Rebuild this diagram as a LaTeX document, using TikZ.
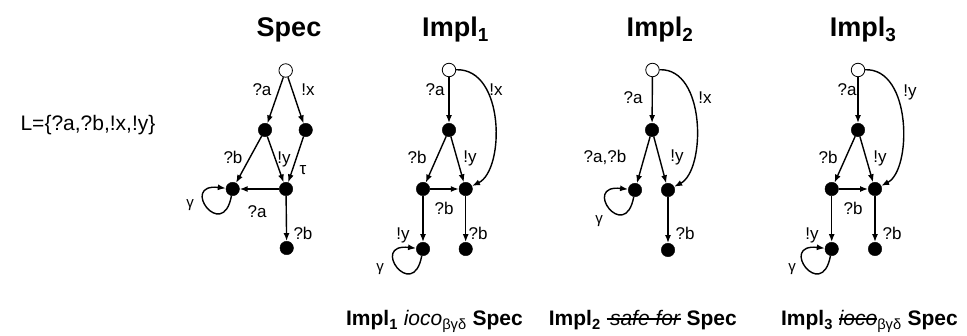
\documentclass[tikz,border=0pt]{standalone}
\usepackage{fontspec}
\setmainfont{Liberation Sans}
\usetikzlibrary{arrows.meta}
\newsavebox\strkbox
\newcommand\strk[1]{\sbox\strkbox{#1}\rlap{\rule[0.3em]{\wd\strkbox}{1.2pt}}\usebox\strkbox}
\begin{document}
\begin{tikzpicture}[x=1pt,y=-1pt,
  st/.style={circle,fill=black,draw=black,inner sep=0pt,minimum size=13.5pt},
  ini/.style={circle,fill=white,draw=black,line width=0.8pt,inner sep=0pt,minimum size=13.5pt},
  tr/.style={draw,line width=1.4pt,-{Latex[length=8pt,width=6pt]}},
  lab/.style={font=\fontsize{17}{20}\selectfont,inner sep=0pt},
  glab/.style={font=\fontsize{15}{18}\selectfont,inner sep=0pt},
  ttl/.style={font=\fontsize{27}{30}\selectfont\bfseries,anchor=base},
  res/.style={font=\fontsize{21}{24}\selectfont,anchor=base east,inner sep=0pt},
  loopy/.style={tr}]
\useasboundingbox (0,0) rectangle (967,336);

\node[font=\fontsize{21}{24}\selectfont,inner sep=0pt] (L) at (88,125) {L=\{?a,?b,!x,!y\}};

% Titles
\node[ttl] (tS) at (289,37) {Spec};
\node[ttl] (t1) at (455.5,37) {Impl\textsubscript{1}};
\node[ttl] (t2) at (660,37) {Impl\textsubscript{2}};
\node[ttl] (t3) at (863,37) {Impl\textsubscript{3}};

% Spec
\node[ini] (s0) at (285.7,70.5) {};
\node[st] (s1) at (265,130) {};
\node[st] (s2) at (305.7,130) {};
\node[st] (s3) at (232.7,189) {};
\node[st] (s4) at (286,189) {};
\node[st] (s5) at (286.7,248) {};
\draw[tr] (s0) -- (s1);
\draw[tr] (s0) -- (s2);
\draw[tr] (s1) -- (s3);
\draw[tr] (s1) -- (s4);
\draw[tr] (s2) -- (s4);
\draw[tr] (s4) -- (s3);
\draw[tr] (s4) -- (s5);
\draw[loopy] (s3) .. controls +(-10,54) and +(-54,-6) .. (s3);
\node[lab] (ls1) at (262,90) {?a};
\node[lab] (ls2) at (308,90) {!x};
\node[lab] (ls3) at (233,157) {?b};
\node[lab] (ls4) at (284,159) {!y};
\node[lab] (ls5) at (303,170) {τ};
\node[lab] (ls6) at (257,212) {?a};
\node[lab] (ls7) at (303,233) {?b};
\node[glab] (ls8) at (190,205) {γ};

% Impl1
\node[ini] (i0) at (449,70) {};
\node[st] (i1) at (449,130) {};
\node[st] (i2) at (423,189) {};
\node[st] (i3) at (465.7,189) {};
\node[st] (i4) at (423,249) {};
\node[st] (i5) at (465.7,249) {};
\draw[tr] (i0) -- (i1);
\draw[tr] (i0) .. controls (505,68) and (505,170) .. (i3);
\draw[tr] (i1) -- (i2);
\draw[tr] (i1) -- (i3);
\draw[tr] (i2) -- (i3);
\draw[tr] (i2) -- (i4);
\draw[tr] (i3) -- (i5);
\draw[loopy] (i4) .. controls +(-10,54) and +(-54,-6) .. (i4);
\node[lab] (li1) at (435,90) {?a};
\node[lab] (li2) at (496,90) {!x};
\node[lab] (li3) at (417,157) {?b};
\node[lab] (li4) at (470,158) {!y};
\node[lab] (li5) at (444,208) {?b};
\node[lab] (li6) at (403,235) {!y};
\node[lab] (li7) at (478,233) {?b};
\node[glab] (li8) at (380,269) {γ};

% Impl2
\node[ini] (j0) at (652.5,70) {};
\node[st] (j1) at (652,130) {};
\node[st] (j2) at (635,190) {};
\node[st] (j3) at (668,190) {};
\node[st] (j4) at (668,250) {};
\draw[tr] (j0) -- (j1);
\draw[tr] (j0) .. controls (706,68) and (706,170) .. (j3);
\draw[tr] (j1) -- (j2);
\draw[tr] (j1) -- (j3);
\draw[tr] (j3) -- (j4);
\draw[loopy] (j2) .. controls +(-10,54) and +(-54,-6) .. (j2);
\node[lab] (lj1) at (633,98) {?a};
\node[lab] (lj2) at (705,98) {!x};
\node[lab] (lj3) at (605,157) {?a,?b};
\node[lab] (lj4) at (677,157) {!y};
\node[lab] (lj5) at (685,233) {?b};
\node[glab] (lj6) at (599,221) {γ};

% Impl3
\node[ini] (k0) at (858,70) {};
\node[st] (k1) at (858,130) {};
\node[st] (k2) at (831.7,189) {};
\node[st] (k3) at (875,189) {};
\node[st] (k4) at (831.7,249) {};
\node[st] (k5) at (875,249) {};
\draw[tr] (k0) -- (k1);
\draw[tr] (k0) .. controls (912,68) and (912,170) .. (k3);
\draw[tr] (k1) -- (k2);
\draw[tr] (k1) -- (k3);
\draw[tr] (k2) -- (k3);
\draw[tr] (k2) -- (k4);
\draw[tr] (k3) -- (k5);
\draw[loopy] (k4) .. controls +(-10,54) and +(-54,-6) .. (k4);
\node[lab] (lk1) at (847,90) {?a};
\node[lab] (lk2) at (910,92) {!y};
\node[lab] (lk3) at (828,157) {?b};
\node[lab] (lk4) at (880,158) {!y};
\node[lab] (lk5) at (853,208) {?b};
\node[lab] (lk6) at (812,235) {!y};
\node[lab] (lk7) at (892,233) {?b};
\node[glab] (lk8) at (792,269) {γ};

% Results
\node[res] (r1) at (523,326) {\textbf{Impl\textsubscript{1}} \textit{ioco}\textsubscript{βγδ} \textbf{Spec}};
\node[res] (r2) at (737,326) {\textbf{Impl\textsubscript{2}} \strk{\textit{\,safe for}} \textbf{Spec}};
\node[res] (r3) at (958,326) {\textbf{Impl\textsubscript{3}} \strk{\textit{ioco}}\textsubscript{βγδ} \textbf{Spec}};
\end{tikzpicture}
\end{document}
